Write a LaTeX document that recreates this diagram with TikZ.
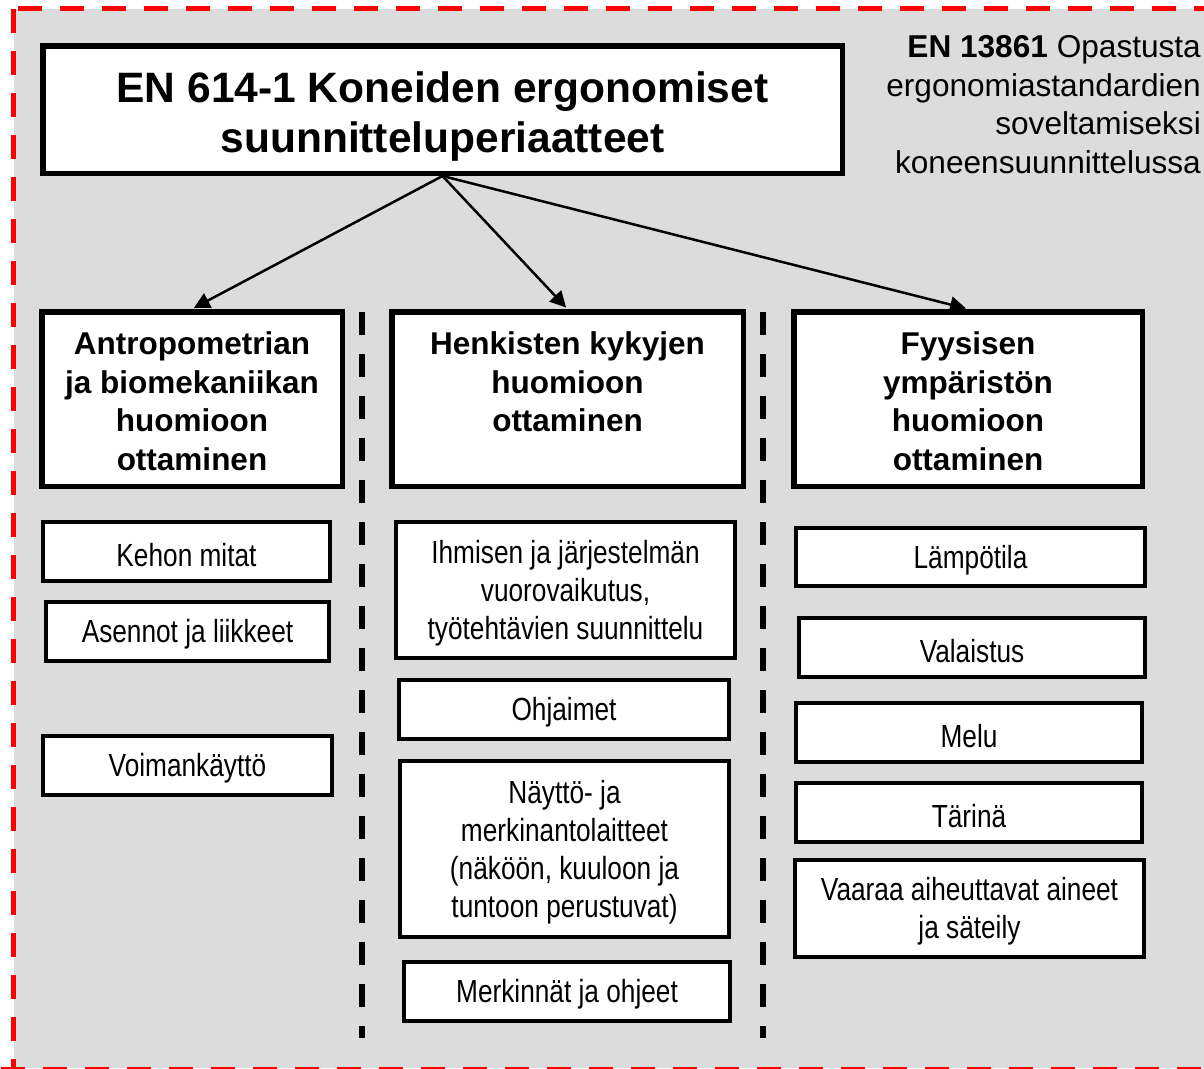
\documentclass[tikz,border=0pt]{standalone}
\usepackage{fontspec}
\setmainfont{Liberation Sans}
\newfontfamily\narrowfont[FakeStretch=0.82]{Liberation Sans}
\usetikzlibrary{arrows.meta}
\definecolor{bggray}{RGB}{220,220,220}
\newcommand\toppad[1]{\rule{0pt}{#1}}
\tikzset{
  titlebox/.style={draw, line width=5.5pt, fill=white, align=center, inner sep=0pt,
    font=\bfseries\fontsize{42.5}{50}\selectfont},
  headbox/.style={draw, line width=5.5pt, fill=white, align=center, inner sep=0pt,
    font=\bfseries\fontsize{31.5}{38.5}\selectfont},
  itembox/.style={draw, line width=4pt, fill=white, align=center, inner sep=0pt,
    font=\narrowfont\fontsize{32}{38}\selectfont},
  note/.style={align=right, inner sep=0pt, font=\fontsize{31.6}{38.5}\selectfont},
  conn/.style={line width=2.5pt, -{Triangle[length=16pt,width=16pt]}, shorten >=2pt},
  sepline/.style={line width=6pt, dash pattern=on 23pt off 19pt},
  redframe/.style={line width=5.5pt, red, dash pattern=on 24pt off 18pt}
}
\begin{document}
\begin{tikzpicture}[x=1pt,y=-1pt]
\useasboundingbox (0,0) rectangle (1204,1068);
\begin{scope}
\clip (0,0) rectangle (1204,1068);
\fill[bggray] (13.5,8.5) rectangle (1204,1068);
\draw[redframe] (13.5,8.5) -- (13.5,1080);
\draw[redframe] (18,8.5) -- (1210,8.5);
\draw[redframe] (1,1069.5) -- (1210,1069.5);
\end{scope}

% separators
\draw[sepline] (362,312) -- (362,1038);
\draw[sepline] (762.5,312) -- (762.5,1038);

% title
\node[titlebox, minimum width=799.5pt, minimum height=127.5pt] (title) at (442.5,109.5)
  {\toppad{45pt}EN 614-1 Koneiden ergonomiset\\suunnitteluperiaatteet};

% note
\node[note, anchor=east] (note) at (1201,104.5)
  {\textbf{EN 13861} Opastusta\\ergonomiastandardien\\soveltamiseksi\\koneensuunnittelussa};

% headers
\node[headbox, minimum width=300.5pt, minimum height=174.5pt] (h1) at (192,399)
  {\toppad{27pt}Antropometrian\\ja biomekaniikan\\huomioon\\ottaminen};
\node[headbox, minimum width=351.5pt, minimum height=174.5pt] (h2) at (567.5,399)
  {\toppad{27pt}Henkisten kykyjen\\huomioon\\ottaminen\\\mbox{}};
\node[headbox, minimum width=348.5pt, minimum height=174.5pt] (h3) at (968,399)
  {\toppad{27pt}Fyysisen\\ympäristön\\huomioon\\ottaminen};

% arrows
\draw[conn] (title.south) -- (h1.north);
\draw[conn] (title.south) -- (h2.north);
\draw[conn] (title.south) -- (h3.north);

% left column
\node[itembox, minimum width=287pt, minimum height=59pt] (k1) at (186.5,551.5) {\toppad{29.5pt}Kehon mitat};
\node[itembox, minimum width=283pt, minimum height=59pt] (k2) at (187.5,631.5) {\toppad{29.5pt}Asennot ja liikkeet};
\node[itembox, minimum width=289pt, minimum height=59pt] (k3) at (187.5,765.5) {\toppad{29.5pt}Voimankäyttö};

% middle column
\node[itembox, minimum width=339pt, minimum height=136pt] (m1) at (565.5,590)
  {\toppad{29.5pt}Ihmisen ja järjestelmän\\vuorovaikutus,\\työtehtävien suunnittelu};
\node[itembox, minimum width=330pt, minimum height=59pt] (m2) at (564,709.5) {\toppad{29.5pt}Ohjaimet};
\node[itembox, minimum width=329pt, minimum height=176pt] (m3) at (564.5,849)
  {\toppad{29.5pt}Näyttö- ja\\merkinantolaitteet\\(näköön, kuuloon ja\\tuntoon perustuvat)};
\node[itembox, minimum width=326pt, minimum height=59pt] (m4) at (567,991.5) {\toppad{29.5pt}Merkinnät ja ohjeet};

% right column
\node[itembox, minimum width=349pt, minimum height=58pt] (r1) at (970.5,557) {\toppad{29.5pt}Lämpötila};
\node[itembox, minimum width=346pt, minimum height=59pt] (r2) at (972,647.5) {\toppad{29.5pt}Valaistus};
\node[itembox, minimum width=346pt, minimum height=59pt] (r3) at (969,732.5) {\toppad{29.5pt}Melu};
\node[itembox, minimum width=346pt, minimum height=59pt] (r4) at (969,812.5) {\toppad{29.5pt}Tärinä};
\node[itembox, minimum width=349pt, minimum height=97pt] (r5) at (969.5,908.5)
  {\toppad{29.5pt}Vaaraa aiheuttavat aineet\\ja säteily};
\end{tikzpicture}
\end{document}
